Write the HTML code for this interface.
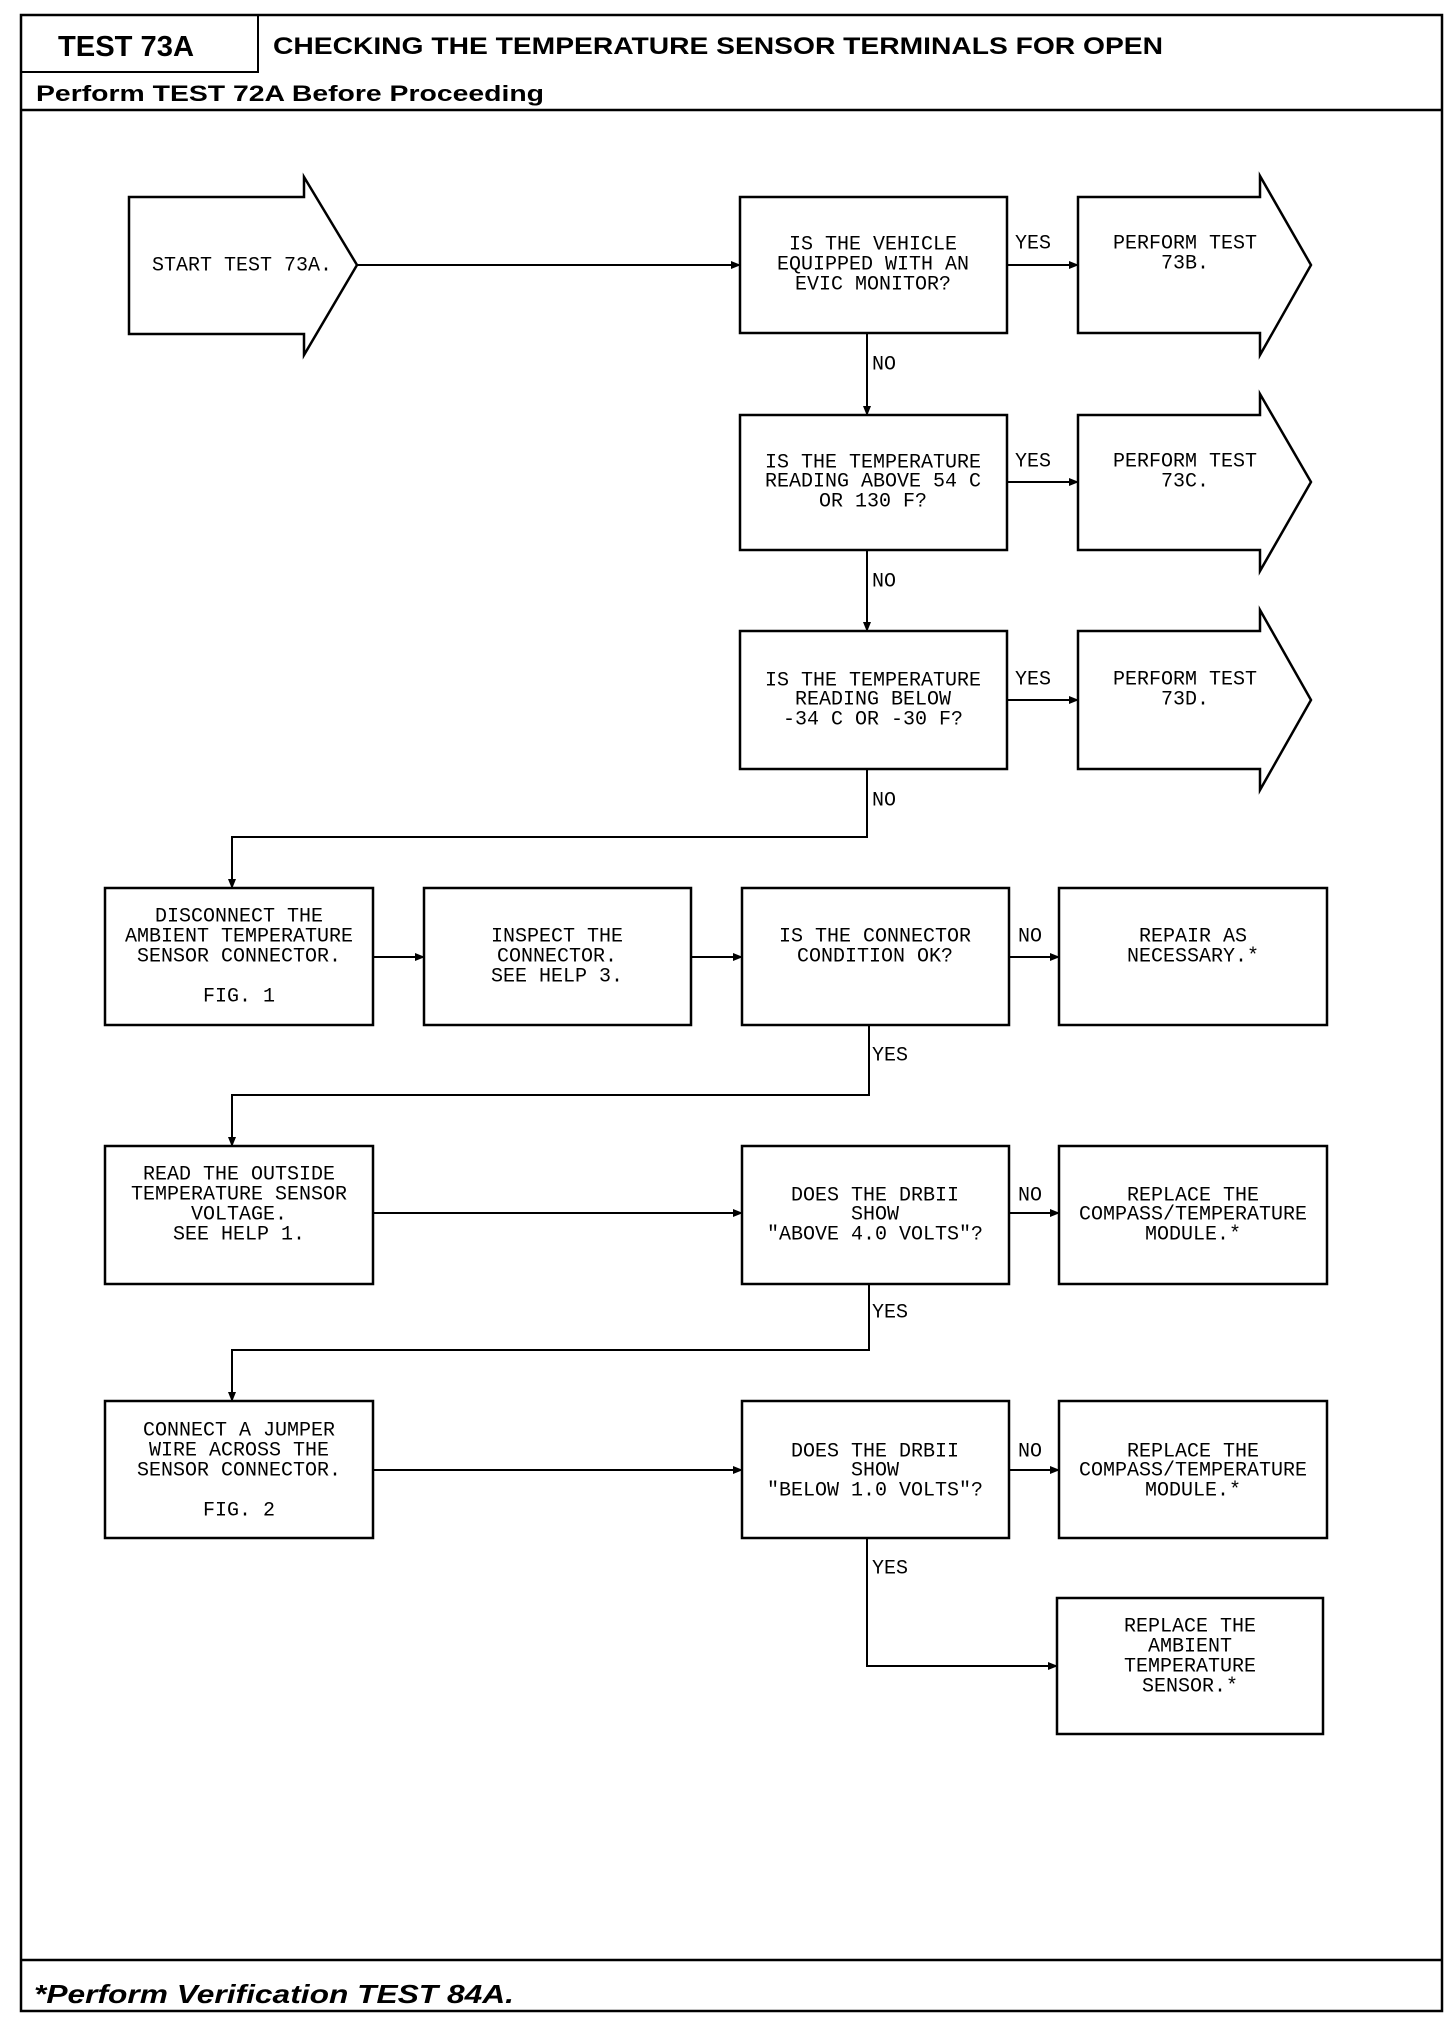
<!DOCTYPE html>
<html><head><meta charset="utf-8"><style>
html,body{margin:0;padding:0;background:#fff;}
svg{display:block}
.t{font-family:"Liberation Mono",monospace;font-size:20px;fill:#000;text-anchor:middle;dominant-baseline:middle}
.l{font-family:"Liberation Mono",monospace;font-size:20px;fill:#000;dominant-baseline:middle}
.b{fill:#fff;stroke:#000;stroke-width:2.5}
.c{fill:none;stroke:#000;stroke-width:2}
</style></head><body>
<svg width="1456" height="2020" viewBox="0 0 1456 2020" xmlns="http://www.w3.org/2000/svg">
<defs><marker id="a" markerWidth="10" markerHeight="8" refX="9" refY="4" orient="auto" markerUnits="userSpaceOnUse"><path d="M0,0 L10,4 L0,8 Z" fill="#000"/></marker></defs>
<rect x="21" y="15" width="1421" height="1996" fill="none" stroke="#000" stroke-width="2.5"/>
<line x1="21" y1="110" x2="1442" y2="110" stroke="#000" stroke-width="2.5"/>
<line x1="21" y1="1960" x2="1442" y2="1960" stroke="#000" stroke-width="2.5"/>
<polyline points="21,72 258,72 258,15" class="c" stroke-width="2.5"/>
<text x="58" y="56" font-family="Liberation Sans,sans-serif" font-weight="bold" font-size="29" textLength="136" lengthAdjust="spacingAndGlyphs">TEST 73A</text>
<text x="273" y="54" font-family="Liberation Sans,sans-serif" font-weight="bold" font-size="24" textLength="890" lengthAdjust="spacingAndGlyphs">CHECKING THE TEMPERATURE SENSOR TERMINALS FOR OPEN</text>
<text x="36" y="101" font-family="Liberation Sans,sans-serif" font-weight="bold" font-size="22" textLength="508" lengthAdjust="spacingAndGlyphs">Perform TEST 72A Before Proceeding</text>
<text x="34" y="2003" font-family="Liberation Sans,sans-serif" font-weight="bold" font-style="italic" font-size="26" textLength="480" lengthAdjust="spacingAndGlyphs">*Perform Verification TEST 84A.</text>

<polygon class="b" points="129,197 304,197 304,177 357,265 304,355 304,334 129,334"/>
<text class="t" x="242" y="265">START TEST 73A.</text>
<polygon class="b" points="1078,197 1260,197 1260,176 1311,265 1260,355 1260,333 1078,333"/>
<text class="t" x="1185" y="243">PERFORM TEST</text><text class="t" x="1185" y="263">73B.</text>
<polygon class="b" points="1078,415 1260,415 1260,394 1311,482 1260,571 1260,550 1078,550"/>
<text class="t" x="1185" y="461">PERFORM TEST</text><text class="t" x="1185" y="481">73C.</text>
<polygon class="b" points="1078,631 1260,631 1260,610 1311,700 1260,790 1260,769 1078,769"/>
<text class="t" x="1185" y="679">PERFORM TEST</text><text class="t" x="1185" y="699">73D.</text>

<rect class="b" x="740" y="197" width="267" height="136"/>
<text class="t" x="873" y="244">IS THE VEHICLE</text><text class="t" x="873" y="264">EQUIPPED WITH AN</text><text class="t" x="873" y="284">EVIC MONITOR?</text>
<rect class="b" x="740" y="415" width="267" height="135"/>
<text class="t" x="873" y="462">IS THE TEMPERATURE</text><text class="t" x="873" y="481">READING ABOVE 54 C</text><text class="t" x="873" y="501">OR 130 F?</text>
<rect class="b" x="740" y="631" width="267" height="138"/>
<text class="t" x="873" y="680">IS THE TEMPERATURE</text><text class="t" x="873" y="699">READING BELOW</text><text class="t" x="873" y="719">-34 C OR -30 F?</text>

<rect class="b" x="105" y="888" width="268" height="137"/>
<text class="t" x="239" y="916">DISCONNECT THE</text><text class="t" x="239" y="936">AMBIENT TEMPERATURE</text><text class="t" x="239" y="956">SENSOR CONNECTOR.</text><text class="t" x="239" y="996">FIG. 1</text>
<rect class="b" x="424" y="888" width="267" height="137"/>
<text class="t" x="557" y="936">INSPECT THE</text><text class="t" x="557" y="956">CONNECTOR.</text><text class="t" x="557" y="976">SEE HELP 3.</text>
<rect class="b" x="742" y="888" width="267" height="137"/>
<text class="t" x="875" y="936">IS THE CONNECTOR</text><text class="t" x="875" y="956">CONDITION OK?</text>
<rect class="b" x="1059" y="888" width="268" height="137"/>
<text class="t" x="1193" y="936">REPAIR AS</text><text class="t" x="1193" y="956">NECESSARY.*</text>

<rect class="b" x="105" y="1146" width="268" height="138"/>
<text class="t" x="239" y="1174">READ THE OUTSIDE</text><text class="t" x="239" y="1194">TEMPERATURE SENSOR</text><text class="t" x="239" y="1214">VOLTAGE.</text><text class="t" x="239" y="1234">SEE HELP 1.</text>
<rect class="b" x="742" y="1146" width="267" height="138"/>
<text class="t" x="875" y="1195">DOES THE DRBII</text><text class="t" x="875" y="1214">SHOW</text><text class="t" x="875" y="1234">"ABOVE 4.0 VOLTS"?</text>
<rect class="b" x="1059" y="1146" width="268" height="138"/>
<text class="t" x="1193" y="1195">REPLACE THE</text><text class="t" x="1193" y="1214">COMPASS/TEMPERATURE</text><text class="t" x="1193" y="1234">MODULE.*</text>

<rect class="b" x="105" y="1401" width="268" height="137"/>
<text class="t" x="239" y="1430">CONNECT A JUMPER</text><text class="t" x="239" y="1450">WIRE ACROSS THE</text><text class="t" x="239" y="1470">SENSOR CONNECTOR.</text><text class="t" x="239" y="1510">FIG. 2</text>
<rect class="b" x="742" y="1401" width="267" height="137"/>
<text class="t" x="875" y="1451">DOES THE DRBII</text><text class="t" x="875" y="1470">SHOW</text><text class="t" x="875" y="1490">"BELOW 1.0 VOLTS"?</text>
<rect class="b" x="1059" y="1401" width="268" height="137"/>
<text class="t" x="1193" y="1451">REPLACE THE</text><text class="t" x="1193" y="1470">COMPASS/TEMPERATURE</text><text class="t" x="1193" y="1490">MODULE.*</text>

<rect class="b" x="1057" y="1598" width="266" height="136"/>
<text class="t" x="1190" y="1626">REPLACE THE</text><text class="t" x="1190" y="1646">AMBIENT</text><text class="t" x="1190" y="1666">TEMPERATURE</text><text class="t" x="1190" y="1686">SENSOR.*</text>

<line class="c" x1="357" y1="265" x2="740" y2="265" marker-end="url(#a)"/>
<line class="c" x1="1007" y1="265" x2="1078" y2="265" marker-end="url(#a)"/>
<line class="c" x1="1007" y1="482" x2="1078" y2="482" marker-end="url(#a)"/>
<line class="c" x1="1007" y1="700" x2="1078" y2="700" marker-end="url(#a)"/>
<line class="c" x1="867" y1="333" x2="867" y2="415" marker-end="url(#a)"/>
<line class="c" x1="867" y1="550" x2="867" y2="631" marker-end="url(#a)"/>
<polyline class="c" points="867,769 867,837 232,837 232,888" marker-end="url(#a)"/>
<line class="c" x1="373" y1="957" x2="424" y2="957" marker-end="url(#a)"/>
<line class="c" x1="691" y1="957" x2="742" y2="957" marker-end="url(#a)"/>
<line class="c" x1="1009" y1="957" x2="1059" y2="957" marker-end="url(#a)"/>
<polyline class="c" points="869,1025 869,1095 232,1095 232,1146" marker-end="url(#a)"/>
<line class="c" x1="373" y1="1213" x2="742" y2="1213" marker-end="url(#a)"/>
<line class="c" x1="1009" y1="1213" x2="1059" y2="1213" marker-end="url(#a)"/>
<polyline class="c" points="869,1284 869,1350 232,1350 232,1401" marker-end="url(#a)"/>
<line class="c" x1="373" y1="1470" x2="742" y2="1470" marker-end="url(#a)"/>
<line class="c" x1="1009" y1="1470" x2="1059" y2="1470" marker-end="url(#a)"/>
<polyline class="c" points="867,1538 867,1666 1057,1666" marker-end="url(#a)"/>

<text class="l" x="1015" y="243">YES</text>
<text class="l" x="1015" y="461">YES</text>
<text class="l" x="1015" y="679">YES</text>
<text class="l" x="872" y="364">NO</text>
<text class="l" x="872" y="581">NO</text>
<text class="l" x="872" y="800">NO</text>
<text class="l" x="1018" y="936">NO</text>
<text class="l" x="872" y="1055">YES</text>
<text class="l" x="1018" y="1195">NO</text>
<text class="l" x="872" y="1312">YES</text>
<text class="l" x="1018" y="1451">NO</text>
<text class="l" x="872" y="1568">YES</text>
</svg>
</body></html>
